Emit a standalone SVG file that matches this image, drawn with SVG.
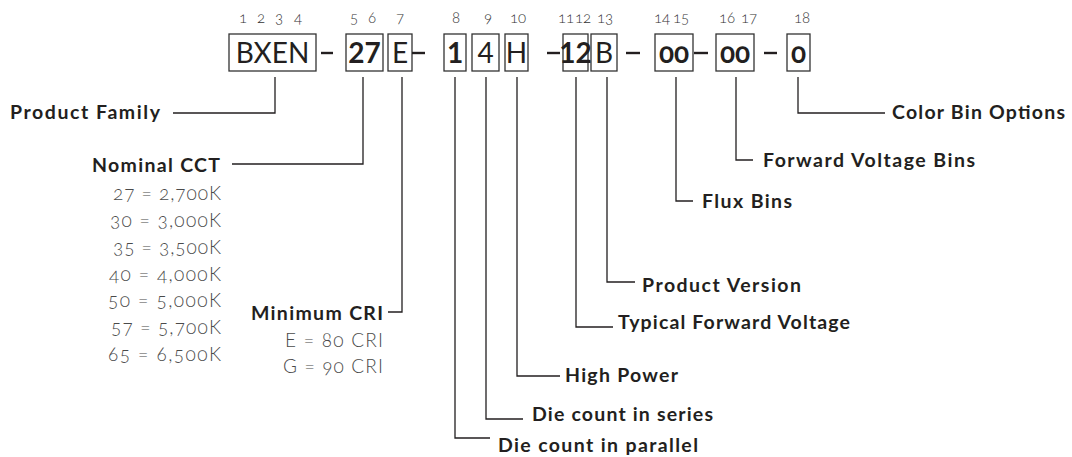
<svg xmlns="http://www.w3.org/2000/svg" width="1072" height="457" viewBox="0 0 1072 457">
<style>
.bg{fill:#ffffff}
.box{fill:none;stroke:#333333;stroke-width:1.3}
.dash{stroke:#231f20;stroke-width:2.4}
text{font-variant-numeric:oldstyle-nums;font-feature-settings:"onum" 1}
.code{font-family:Lato,"Open Sans","Liberation Sans",sans-serif;font-size:28px;fill:#231f20;text-anchor:middle}
.lin{font-variant-numeric:lining-nums;font-feature-settings:"lnum" 1}
.b{font-weight:bold}
.pos{font-family:Lato,"Open Sans","Liberation Sans",sans-serif;font-size:15px;font-weight:300;fill:#333333;text-anchor:middle}
.lbl{font-family:Lato,"Open Sans","Liberation Sans",sans-serif;font-size:19.5px;font-weight:bold;fill:#231f20}
.val{font-family:Lato,"Open Sans","Liberation Sans",sans-serif;font-size:19px;font-weight:300;fill:#4a4a4a;text-anchor:end}
.end{text-anchor:end}
.con{fill:none;stroke:#231f20;stroke-width:1.3}
</style>
<rect class="bg" x="0" y="0" width="1072" height="457"/>
<g id="positions">
<text class="pos" x="243" y="23">1</text>
<text class="pos" x="261" y="23">2</text>
<text class="pos" x="279" y="23">3</text>
<text class="pos" x="298" y="23">4</text>
<text class="pos" x="354" y="23">5</text>
<text class="pos" x="372" y="23">6</text>
<text class="pos" x="400" y="23">7</text>
<text class="pos" x="456" y="23">8</text>
<text class="pos" x="488" y="23">9</text>
<text class="pos" x="518" y="23">10</text>
<text class="pos" x="566" y="23">11</text>
<text class="pos" x="583" y="23">12</text>
<text class="pos" x="605" y="23">13</text>
<text class="pos" x="662" y="23">14</text>
<text class="pos" x="681" y="23">15</text>
<text class="pos" x="727" y="23">16</text>
<text class="pos" x="749" y="23">17</text>
<text class="pos" x="802" y="23">18</text>
</g>
<g id="code">
<g id="seg-bxen"><rect class="box" x="229" y="34" width="87" height="37"/><text class="code" x="272.5" y="63">BXEN</text></g>
<line class="dash" x1="321" y1="53" x2="333" y2="53"/>
<g id="seg-27"><rect class="box" x="346" y="34" width="37" height="37"/><text class="code b lin" x="364.5" y="63">27</text></g>
<g id="seg-e"><rect class="box" x="388" y="34" width="24" height="37"/><text class="code" x="400" y="63">E</text></g>
<line class="dash" x1="412" y1="53" x2="425" y2="53"/>
<g id="seg-1"><rect class="box" x="444" y="34" width="22" height="37"/><text class="code b lin" x="455" y="63">1</text></g>
<g id="seg-4"><rect class="box" x="472" y="34" width="27" height="37"/><text class="code lin" x="485.5" y="63">4</text></g>
<g id="seg-h"><rect class="box" x="505" y="34" width="23" height="37"/><text class="code" x="516.5" y="63">H</text></g>
<line class="dash" x1="547" y1="53" x2="560" y2="53"/>
<g id="seg-12"><rect class="box" x="563" y="34" width="25" height="37"/><text class="code b lin" x="575.5" y="63">12</text></g>
<g id="seg-b"><rect class="box" x="591" y="34" width="26" height="37"/><text class="code" x="604" y="63">B</text></g>
<line class="dash" x1="626" y1="53" x2="640" y2="53"/>
<g id="seg-00a"><rect class="box" x="655" y="34" width="38" height="37"/><text class="code b" x="674" y="63">00</text></g>
<line class="dash" x1="694" y1="53" x2="708" y2="53"/>
<g id="seg-00b"><rect class="box" x="716" y="34" width="38" height="37"/><text class="code b" x="735" y="63">00</text></g>
<line class="dash" x1="764" y1="53" x2="777" y2="53"/>
<g id="seg-0"><rect class="box" x="787" y="34" width="23" height="37"/><text class="code b" x="798.5" y="63">0</text></g>
</g>
<g id="connectors">
<path class="con" d="M275 77V113H173"/>
<path class="con" d="M363 77V164H232"/>
<path class="con" d="M402 77V312H388"/>
<path class="con" d="M455 77V438H490"/>
<path class="con" d="M486 77V419H523"/>
<path class="con" d="M517 77V376H560"/>
<path class="con" d="M576 77V327H613"/>
<path class="con" d="M607 77V282H635"/>
<path class="con" d="M676 77V201H693"/>
<path class="con" d="M736 77V160H753"/>
<path class="con" d="M798 77V113H885"/>
</g>
<g id="product-family"><text class="lbl end" x="160" y="119" textLength="150">Product Family</text></g>
<g id="nominal-cct">
<text class="lbl end" x="220" y="172" textLength="128">Nominal CCT</text>
<text class="val" x="221" y="200" textLength="108">27 = 2,700K</text>
<text class="val" x="221" y="227" textLength="111">30 = 3,000K</text>
<text class="val" x="221" y="254" textLength="108">35 = 3,500K</text>
<text class="val" x="221" y="281" textLength="112">40 = 4,000K</text>
<text class="val" x="221" y="307" textLength="113">50 = 5,000K</text>
<text class="val" x="221" y="334" textLength="110">57 = 5,700K</text>
<text class="val" x="221" y="361" textLength="113">65 = 6,500K</text>
</g>
<g id="minimum-cri">
<text class="lbl end" x="383" y="320" textLength="132">Minimum CRI</text>
<text class="val" x="383" y="347" textLength="98">E = 80 CRI</text>
<text class="val" x="383" y="373" textLength="100">G = 90 CRI</text>
</g>
<g id="die-parallel"><text class="lbl" x="498" y="452" textLength="200">Die count in parallel</text></g>
<g id="die-series"><text class="lbl" x="532" y="421" textLength="181">Die count in series</text></g>
<g id="high-power"><text class="lbl" x="565" y="382" textLength="113">High Power</text></g>
<g id="typical-fv"><text class="lbl" x="618" y="329" textLength="232">Typical Forward Voltage</text></g>
<g id="product-version"><text class="lbl" x="642" y="292" textLength="159">Product Version</text></g>
<g id="flux-bins"><text class="lbl" x="702" y="208" textLength="90">Flux Bins</text></g>
<g id="fv-bins"><text class="lbl" x="763" y="167" textLength="212">Forward Voltage Bins</text></g>
<g id="color-bin"><text class="lbl" x="892" y="119" textLength="173">Color Bin Options</text></g>
</svg>
